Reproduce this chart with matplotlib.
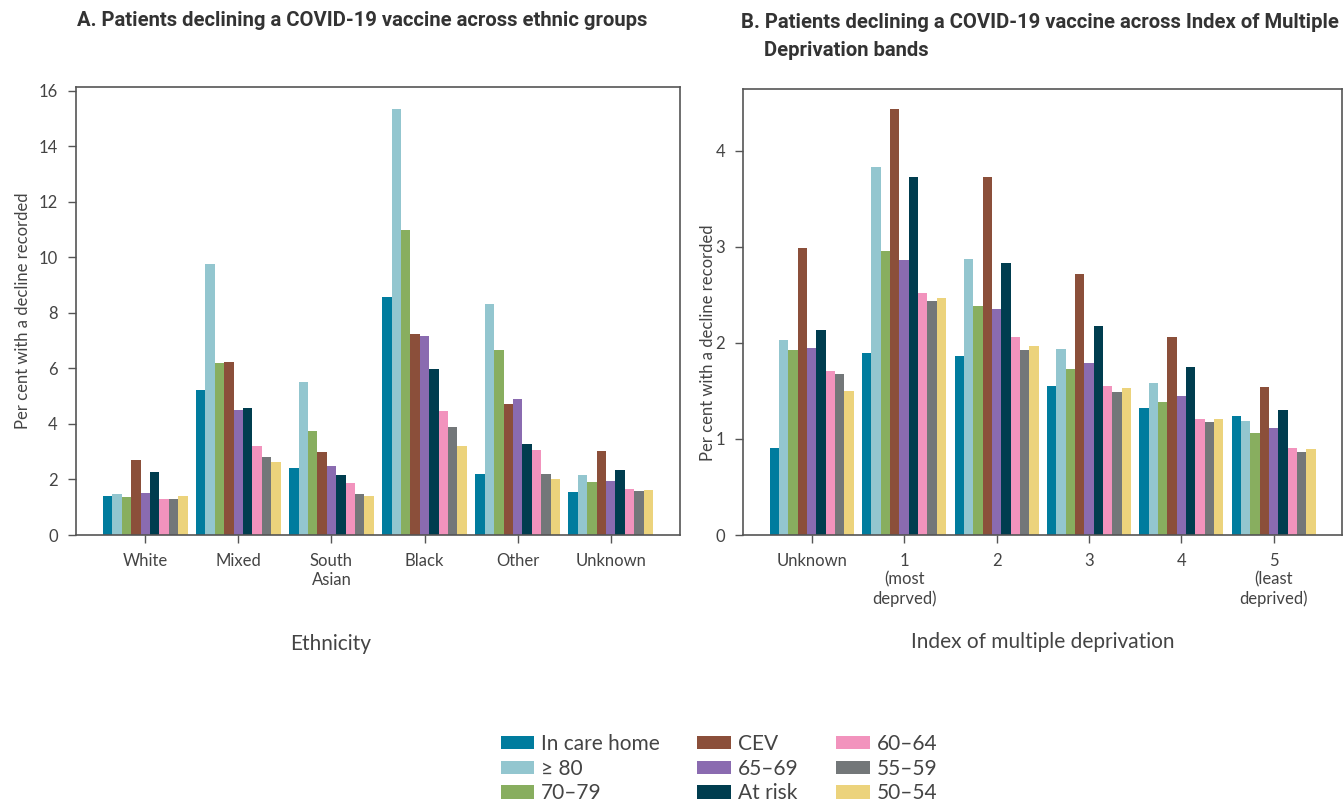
import numpy as np
import matplotlib
matplotlib.use("Agg")
import matplotlib.pyplot as plt
from matplotlib.patches import Patch

plt.rcParams['font.family'] = ['Lato', 'DejaVu Sans']

# Groups shown in each bar cluster
groups = ["In care home", "≥ 80", "70–79", "CEV", "65–69", "At risk", "60–64", "55–59", "50–54"]
colors = ["#007c9e", "#93c6cf", "#88ae5f", "#8b4f3a", "#8a6bb0", "#003d4f", "#f293bd", "#737779", "#ecd37c"]

# Panel A: ethnicity
ethnicity = ["White", "Mixed", "South\nAsian", "Black", "Other", "Unknown"]
eth_care_home = [1.41, 5.23, 2.41, 8.58, 2.20, 1.55]
eth_80plus    = [1.48, 9.77, 5.51, 15.35, 8.32, 2.16]
eth_70_79     = [1.37, 6.20, 3.75, 10.99, 6.67, 1.91]
eth_cev       = [2.70, 6.23, 2.99, 7.24, 4.72, 3.03]
eth_65_69     = [1.51, 4.50, 2.49, 7.17, 4.90, 1.95]
eth_at_risk   = [2.27, 4.58, 2.16, 5.98, 3.28, 2.34]
eth_60_64     = [1.30, 3.21, 1.87, 4.47, 3.06, 1.66]
eth_55_59     = [1.30, 2.81, 1.48, 3.89, 2.20, 1.59]
eth_50_54     = [1.41, 2.63, 1.41, 3.21, 2.02, 1.62]

# Panel B: IMD band
imd = ["Unknown", "1\n(most\ndeprved)", "2", "3", "4", "5\n(least\ndeprived)"]
imd_care_home = [0.905, 1.89, 1.86, 1.55, 1.32, 1.24]
imd_80plus    = [2.03, 3.83, 2.87, 1.94, 1.58, 1.19]
imd_70_79     = [1.93, 2.96, 2.38, 1.73, 1.38, 1.06]
imd_cev       = [2.99, 4.43, 3.72, 2.72, 2.06, 1.54]
imd_65_69     = [1.95, 2.86, 2.35, 1.79, 1.45, 1.11]
imd_at_risk   = [2.13, 3.72, 2.83, 2.17, 1.75, 1.30]
imd_60_64     = [1.705, 2.52, 2.06, 1.55, 1.21, 0.905]
imd_55_59     = [1.68, 2.43, 1.92, 1.49, 1.18, 0.863]
imd_50_54     = [1.50, 2.47, 1.965, 1.53, 1.21, 0.894]

eth_series = [eth_care_home, eth_80plus, eth_70_79, eth_cev, eth_65_69,
              eth_at_risk, eth_60_64, eth_55_59, eth_50_54]
imd_series = [imd_care_home, imd_80plus, imd_70_79, imd_cev, imd_65_69,
              imd_at_risk, imd_60_64, imd_55_59, imd_50_54]

text_col = "#444444"
spine_col = "#555555"
bar_w = 0.101

fig = plt.figure(figsize=(13.44, 8.05), dpi=100)
ax_a = fig.add_axes([0.0565, 0.3354, 0.4492, 0.5565])
ax_b = fig.add_axes([0.5528, 0.3354, 0.4457, 0.5540])


def draw_panel(ax, cats, series, ymax, yticks):
    x = np.arange(len(cats))
    for i, (vals, c) in enumerate(zip(series, colors)):
        ax.bar(x + (i - 4) * bar_w, vals, width=bar_w, color=c, linewidth=0)
    ax.set_xlim(-0.745, 5.74)
    ax.set_ylim(0, ymax)
    ax.set_xticks(x)
    ax.set_xticklabels(cats, fontsize=12, color=text_col, linespacing=1.2)
    ax.set_yticks(yticks)
    ax.set_yticklabels([str(t) for t in yticks], fontsize=12, color=text_col)
    ax.tick_params(axis='both', direction='out', length=6, width=1.0, color=spine_col, pad=7)
    for s in ax.spines.values():
        s.set_color(spine_col)
        s.set_linewidth(1.2)
    ax.set_ylabel("Per cent with a decline recorded", fontsize=12, color=text_col)


draw_panel(ax_a, ethnicity, eth_series, 16.14, list(range(0, 17, 2)))
draw_panel(ax_b, imd, imd_series, 4.64, [0, 1, 2, 3, 4])

ax_a.yaxis.set_label_coords(-0.075, 0.50)
ax_b.yaxis.set_label_coords(-0.045, 0.43)

ax_a.set_xlabel("Ethnicity", fontsize=15, color=text_col)
ax_a.xaxis.set_label_coords(0.422, -0.222)
ax_b.set_xlabel("Index of multiple deprivation", fontsize=15, color=text_col)
ax_b.xaxis.set_label_coords(0.50, -0.218)

title_font = ['Roboto', 'DejaVu Sans']
fig.text(77 / 1344, 1 - 20 / 805, "A. Patients declining a COVID-19 vaccine across ethnic groups",
         family=title_font, fontweight='bold', fontsize=14.6, color="#333333", va='center', ha='left')
fig.text(741 / 1344, 1 - 22 / 805, "B. Patients declining a COVID-19 vaccine across Index of Multiple",
         family=title_font, fontweight='bold', fontsize=14.6, color="#333333", va='center', ha='left')
fig.text(764 / 1344, 1 - 50 / 805, "Deprivation bands",
         family=title_font, fontweight='bold', fontsize=14.6, color="#333333", va='center', ha='left')

handles = [Patch(facecolor=c, edgecolor='none', label=g) for g, c in zip(groups, colors)]
leg = fig.legend(handles=handles, ncol=3, loc='center', bbox_to_anchor=(0.535, 0.045),
                 frameon=False, fontsize=15, handlelength=1.6, handleheight=0.6,
                 handletextpad=0.35, columnspacing=1.8, labelspacing=0.22, labelcolor=text_col)

fig.savefig("out.png", dpi=100)
